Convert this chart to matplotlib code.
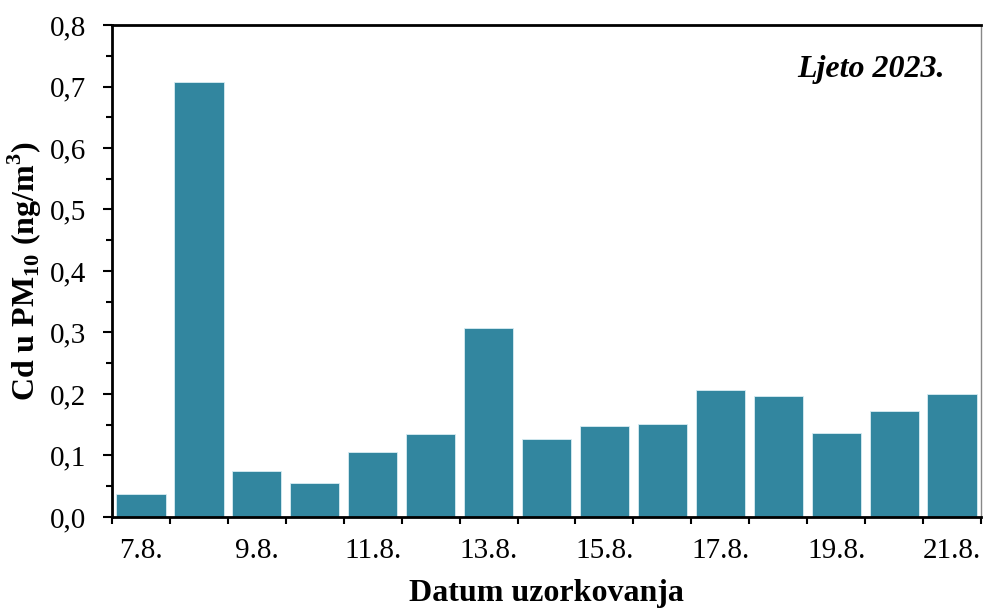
import numpy as np
import matplotlib.pyplot as plt
from matplotlib.ticker import MultipleLocator, FuncFormatter

plt.rcParams['font.family'] = 'Liberation Serif'
plt.rcParams['mathtext.fontset'] = 'custom'
plt.rcParams['mathtext.rm'] = 'Liberation Serif'
plt.rcParams['mathtext.bf'] = 'Liberation Serif:bold'

dates = ['7.8.', '8.8.', '9.8.', '10.8.', '11.8.', '12.8.', '13.8.', '14.8.',
         '15.8.', '16.8.', '17.8.', '18.8.', '19.8.', '20.8.', '21.8.']
cd = [0.037, 0.708, 0.075, 0.056, 0.106, 0.135, 0.308, 0.127,
      0.148, 0.152, 0.206, 0.196, 0.137, 0.173, 0.200]

fig = plt.figure(figsize=(9.84, 6.10), dpi=100)
ax = fig.add_axes([0.1138, 0.1525, 0.8832, 0.8065])

x = np.arange(len(dates))
ax.bar(x, cd, width=0.85, color='#32869F', edgecolor='#d8ecf2', linewidth=0.6)

ax.set_xlim(-0.5, len(dates) - 0.5)
ax.set_ylim(0, 0.8)

# labels on every other day, tick marks at bar boundaries
ax.set_xticks(x[::2])
ax.set_xticklabels(dates[::2])
ax.set_xticks(np.arange(-0.5, len(dates), 1.0), minor=True)
ax.tick_params(axis='x', which='major', length=0, pad=15, labelsize=21)
ax.tick_params(axis='x', which='minor', length=5, width=1.5, direction='out')

ax.yaxis.set_major_locator(MultipleLocator(0.1))
ax.yaxis.set_minor_locator(MultipleLocator(0.05))
ax.yaxis.set_major_formatter(FuncFormatter(lambda v, p: f'{v:.1f}'.replace('.', ',')))
ax.tick_params(axis='y', which='major', length=6.5, width=1.5, labelsize=21, pad=12)
ax.tick_params(axis='y', which='minor', length=4, width=1.5)

for s in ['left', 'bottom', 'top']:
    ax.spines[s].set_linewidth(2)
    ax.spines[s].set_color('black')
ax.spines['right'].set_linewidth(1)
ax.spines['right'].set_color('#888888')

ax.set_xlabel('Datum uzorkovanja', fontsize=23, fontweight='bold', labelpad=11)
ax.set_ylabel(r'Cd u PM$_{\mathbf{10}}$ (ng/m$^{\mathbf{3}}$)', fontsize=23,
              fontweight='bold', labelpad=4)

ax.text(0.958, 0.91, 'Ljeto 2023.', transform=ax.transAxes, ha='right', va='center',
        fontsize=23, fontweight='bold', fontstyle='italic')

fig.savefig('out.png', dpi=100)
